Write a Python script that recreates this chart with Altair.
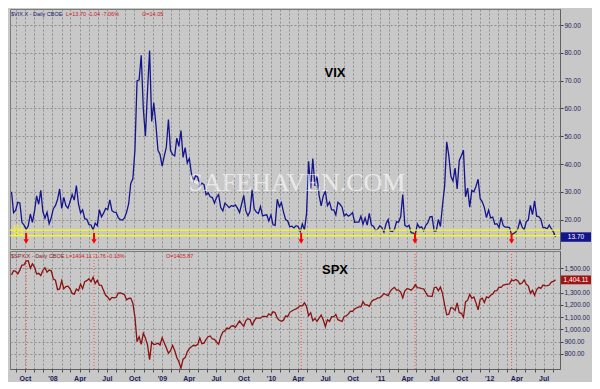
import altair as alt
import pandas as pd

# ---------------- data (weekly) ----------------
vix_2007 = [30.0, 22.5, 23.4, 26.2, 26.0, 19.0, 18.0, 16.5, 17.7, 22.0,
            19.0, 23.0, 28.5, 25.5, 30.5, 22.9, 20.5, 22.6, 18.5, 20.7]
vix_2008 = [23.9, 25.0, 27.2, 31.0,
            24.0, 28.0, 25.0, 24.1, 26.5,
            29.0, 27.0, 32.2, 25.7,
            22.4, 23.5, 20.3, 20.1,
            18.2, 18.0, 16.3, 18.7, 17.8,
            23.6, 21.0, 22.3, 24.0,
            23.6, 27.1, 23.2, 22.7,
            22.6, 20.7, 20.0, 19.8, 20.6,
            22.6, 25.7, 33.0, 34.7,
            45.1, 69.95, 70.3, 79.1, 59.9,
            50.0, 66.3, 80.86, 55.3,
            62.0, 54.3, 44.9, 43.4]
vix_2009 = [39.2, 42.8, 46.1, 56.0, 44.8,
            43.4, 42.9, 49.3, 46.4,
            52.0, 42.4, 45.9, 40.4,
            42.0, 36.5, 33.9, 35.8,
            35.3, 32.1, 33.1, 32.6, 28.9,
            29.6, 28.2, 27.9, 25.9,
            28.0, 29.0, 24.3, 23.1, 25.9,
            25.2, 24.3, 25.0, 24.8,
            25.3, 24.1, 22.5, 25.6,
            28.7, 23.1, 21.4, 23.0, 30.7,
            23.9, 22.7, 22.2, 24.7,
            21.3, 21.6, 21.7, 19.5]
vix_2010 = [21.7, 18.1, 17.9, 27.3, 24.6,
            26.1, 22.7, 20.0, 19.5,
            17.4, 17.6, 17.0, 17.8,
            17.5, 15.6, 18.4, 16.3, 22.05,
            40.95, 31.2, 42.0, 32.1,
            35.5, 28.8, 24.9, 28.5,
            30.1, 25.0, 26.25, 23.5, 23.5,
            21.7, 26.2, 25.5, 24.45,
            21.3, 22.0, 21.2, 21.7,
            22.5, 19.0, 19.1, 19.1, 21.2,
            18.3, 20.6, 18.0, 22.2,
            18.0, 17.6, 16.1, 16.5, 17.75]
vix_2011 = [17.1, 15.5, 18.5, 20.0,
            15.9, 15.7, 16.4, 19.2,
            19.1, 21.0, 29.0, 17.9,
            17.4, 17.9, 15.3, 15.1, 14.75,
            18.4, 17.1, 17.4, 16.0,
            17.95, 18.9, 21.0, 21.1,
            15.9, 15.95, 20.0, 17.5, 25.25,
            32.0, 48.0, 43.05, 35.6,
            33.9, 38.5, 31.0, 41.25, 43.0,
            45.0, 28.2, 31.3, 24.5,
            30.5, 30.0, 32.0, 34.5,
            27.5, 26.4, 24.3, 20.7, 23.4]
vix_2012 = [20.6, 20.9, 18.3, 18.5,
            17.1, 20.8, 17.8, 17.3,
            17.3, 17.1, 14.5, 15.0, 15.5,
            16.7, 19.55, 17.4, 16.3,
            19.2, 19.9, 25.1, 21.8,
            26.7, 21.2, 21.1, 20.1, 17.1,
            17.1, 16.7, 18.0, 16.7,
            15.6, 13.7]

spx_2007 = [1445, 1479, 1474, 1453, 1484, 1525, 1527, 1557, 1561, 1500,
            1535, 1509, 1453, 1458, 1440, 1481, 1504, 1467, 1484, 1478]
spx_2008 = [1411, 1401, 1325, 1330,
            1396, 1332, 1349, 1353, 1331,
            1294, 1288, 1330, 1316,
            1370, 1332, 1390, 1398,
            1413, 1389, 1425, 1375, 1400,
            1361, 1360, 1318, 1278,
            1262, 1240, 1261, 1257,
            1260, 1296, 1298, 1292, 1283,
            1242, 1252, 1255, 1213,
            1099, 899, 940, 877, 968,
            930, 873, 752, 896,
            876, 879, 887, 872]
spx_2009 = [932, 890, 850, 805, 826,
            869, 827, 770, 735,
            683, 756, 769, 816,
            843, 857, 870, 866,
            877, 929, 883, 887, 919,
            940, 946, 921, 918,
            897, 879, 940, 979, 987,
            1010, 1005, 1026, 1029,
            1016, 1042, 1068, 1044,
            1025, 1072, 1087, 1080, 1036,
            1069, 1093, 1091, 1091,
            1106, 1106, 1102, 1127]
spx_2010 = [1115, 1145, 1136, 1092, 1074,
            1066, 1075, 1109, 1105,
            1139, 1150, 1160, 1167,
            1179, 1194, 1192, 1217, 1187,
            1111, 1136, 1071, 1089,
            1065, 1092, 1117, 1076,
            1023, 1078, 1065, 1103, 1102,
            1122, 1079, 1071, 1065,
            1105, 1110, 1126, 1149,
            1147, 1166, 1176, 1183, 1183,
            1226, 1200, 1200, 1189,
            1225, 1240, 1244, 1257, 1258]
spx_2011 = [1272, 1293, 1283, 1276,
            1310, 1330, 1343, 1320,
            1321, 1304, 1257, 1314,
            1332, 1328, 1320, 1337, 1364,
            1340, 1338, 1333, 1331,
            1300, 1271, 1271, 1268,
            1340, 1344, 1316, 1345, 1292,
            1199, 1119, 1124, 1177,
            1174, 1154, 1216, 1136, 1131,
            1099, 1224, 1238, 1285,
            1253, 1264, 1216, 1159,
            1244, 1255, 1219, 1265, 1258]
spx_2012 = [1278, 1289, 1315, 1316,
            1345, 1343, 1361, 1366,
            1370, 1371, 1404, 1397, 1408,
            1398, 1370, 1378, 1403,
            1369, 1353, 1295, 1318,
            1278, 1325, 1343, 1335, 1362,
            1355, 1357, 1362, 1386,
            1391, 1404.11]

vix_ticks = [20, 30, 40, 50, 60, 70, 80, 90]
spx_ticks = [800, 900, 1000, 1100, 1200, 1300, 1500]
support_levels = [16.2, 14.2]
support_labels = ["16.2", "14.2"]
low_dates = ["2007-10-05", "2008-05-19", "2010-04-12", "2011-04-28", "2012-03-16"]
last_vix, last_vix_label = 13.70, "13.70"
last_spx, last_spx_label = 1404.11, "1,404.11"

vix = vix_2007 + vix_2008 + vix_2009 + vix_2010 + vix_2011 + vix_2012
spx = spx_2007 + spx_2008 + spx_2009 + spx_2010 + spx_2011 + spx_2012
dates = pd.date_range("2007-08-17", periods=len(vix), freq="7D")
df = pd.DataFrame({"date": dates, "vix": vix, "spx": spx})

# ---------------- layout / style ----------------
W, H1, H2 = 550, 240, 118
BG = "#c8c8c8"
GRID = "#8e8e8e"
AXC = "#1c1c5c"
FONT = "Liberation Sans"

xscale = alt.Scale(domain=[alt.DateTime(year=2007, month=8, date=12),
                           alt.DateTime(year=2012, month=8, date=25)])
month_vals = [alt.DateTime(year=d.year, month=d.month, date=1)
              for d in pd.date_range("2007-09-01", "2012-08-01", freq="MS")]
label_expr = ("month(datum.value) % 3 == 0 ? (month(datum.value) == 0 ? \"'\" + "
              "timeFormat(datum.value, '%y') : timeFormat(datum.value, '%b')) : ''")

ax_top = alt.Axis(values=month_vals, grid=True, gridDash=[2, 2], gridColor=GRID,
                  labels=False, ticks=False, domain=False, title=None)
ax_bot = alt.Axis(values=month_vals, grid=True, gridDash=[2, 2], gridColor=GRID,
                  labelExpr=label_expr, labelOverlap=False, labelFlush=False,
                  labelFontSize=7, labelFontWeight="bold", labelColor=AXC,
                  labelFont=FONT, labelPadding=2, tickSize=3, tickColor="#505050",
                  domain=True, domainColor="#606060", title=None)

X_top = alt.X("date:T", scale=xscale, axis=ax_top)
X_bot = alt.X("date:T", scale=xscale, axis=ax_bot)

vix_scale = alt.Scale(domain=[9.4, 95.8], nice=False, zero=False)
spx_scale = alt.Scale(domain=[676, 1640], nice=False, zero=False)

def yaxis(vals, fmt):
    return alt.Axis(orient="right", values=vals, format=fmt, title=None, grid=True,
                    gridDash=[2, 2], gridColor=GRID, tickSize=3, tickColor="#404040",
                    labelFontSize=6.5, labelColor=AXC, labelFont=FONT, labelPadding=1,
                    domainColor="#606060")

Y_vix = alt.Y("vix:Q", scale=vix_scale, axis=yaxis(vix_ticks, ".2f"))
Y_spx = alt.Y("spx:Q", scale=spx_scale, axis=yaxis(spx_ticks, ",.2f"))

low_df = pd.DataFrame({"date": pd.to_datetime(low_dates)})
arrow_df = low_df.assign(vix=15.2, vix2=12.6)
head_df = low_df.assign(vix=12.1)
yel_df = pd.DataFrame({"vix": support_levels, "label": support_labels})

# ---------------- VIX panel ----------------
vix_line = alt.Chart(df).mark_line(color="#14148c", strokeWidth=1.3).encode(x=X_top, y=Y_vix)
yel = alt.Chart(yel_df).mark_rule(color="#ffff00", strokeWidth=1.3).encode(y=Y_vix)
yel_txt = alt.Chart(yel_df).mark_text(align="left", dy=-3, fontSize=5, color="#ffff00",
                                      font=FONT).encode(x=alt.value(3), y=Y_vix, text="label:N")
arrow_stem = alt.Chart(arrow_df).mark_rule(color="#ff0000", strokeWidth=2).encode(
    x=X_top, y=Y_vix, y2="vix2:Q")
arrow_head = alt.Chart(head_df).mark_point(shape="triangle-down", filled=True, size=28,
                                           color="#ff0000", opacity=1).encode(x=X_top, y=Y_vix)
vix_box = alt.Chart(pd.DataFrame({"vix": [last_vix + 1.7], "vix2": [last_vix - 1.7]})).mark_rect(
    color="#14148c").encode(x=alt.value(W + 1), x2=alt.value(W + 31), y=Y_vix, y2="vix2:Q")
vix_box_txt = alt.Chart(pd.DataFrame({"vix": [last_vix], "t": [last_vix_label]})).mark_text(
    color="white", fontSize=6.5, font=FONT).encode(x=alt.value(W + 16), y=Y_vix, text="t:N")

def txt(s, x, y, color, size=5.5, weight="normal", align="left", font=FONT, opacity=1.0):
    return alt.Chart(pd.DataFrame({"t": [s]})).mark_text(
        align=align, baseline="middle", fontSize=size, fontWeight=weight, color=color,
        font=font, opacity=opacity).encode(x=alt.value(x), y=alt.value(y), text="t:N")

vix_panel = alt.layer(
    vix_line, yel, yel_txt, arrow_stem, arrow_head, vix_box, vix_box_txt,
    txt("$VIX.X - Daily CBOE", 1, 5, "#1c1c6c"),
    txt("L=13.70 -1.04 -7.06%", 56, 5, "#d02020"),
    txt("O=14.05", 132, 5, "#d02020"),
    txt("VIX", 325, 64, "#000000", size=13, weight="bold", align="center"),
    txt("SAFEHAVEN.COM", 287, 174, "#ffffff", size=26, align="center",
        font="Liberation Serif", opacity=0.6),
).properties(width=W, height=H1)

# ---------------- SPX panel ----------------
spx_line = alt.Chart(df).mark_line(color="#8c1010", strokeWidth=1.3).encode(x=X_bot, y=Y_spx)
red_dots = alt.Chart(low_df).mark_rule(color="#ff4a4a", strokeDash=[1, 2], strokeWidth=1).encode(x=X_bot)
spx_box = alt.Chart(pd.DataFrame({"spx": [last_spx + 36], "spx2": [last_spx - 36]})).mark_rect(
    color="#a01414").encode(x=alt.value(W + 1), x2=alt.value(W + 31), y=Y_spx, y2="spx2:Q")
spx_box_txt = alt.Chart(pd.DataFrame({"spx": [last_spx], "t": [last_spx_label]})).mark_text(
    color="white", fontSize=6.5, font=FONT).encode(x=alt.value(W + 16), y=Y_spx, text="t:N")

spx_panel = alt.layer(
    red_dots, spx_line, spx_box, spx_box_txt,
    txt("$SPX.X - Daily CBOE", 1, 5, "#8c1c1c"),
    txt("L=1404.11 -1.76 -0.13%", 56, 5, "#d02020"),
    txt("O=1405.87", 156, 5, "#d02020"),
    txt("SPX", 325, 19, "#000000", size=13, weight="bold", align="center"),
).properties(width=W, height=H2)

chart = alt.vconcat(vix_panel, spx_panel, spacing=0).properties(
    background=BG, padding={"left": 0, "top": 0, "right": 0, "bottom": 0}
).configure_view(stroke="#7a7a7a", strokeWidth=1)

chart.save("out.html", embed_options={"renderer": "svg", "actions": False})
